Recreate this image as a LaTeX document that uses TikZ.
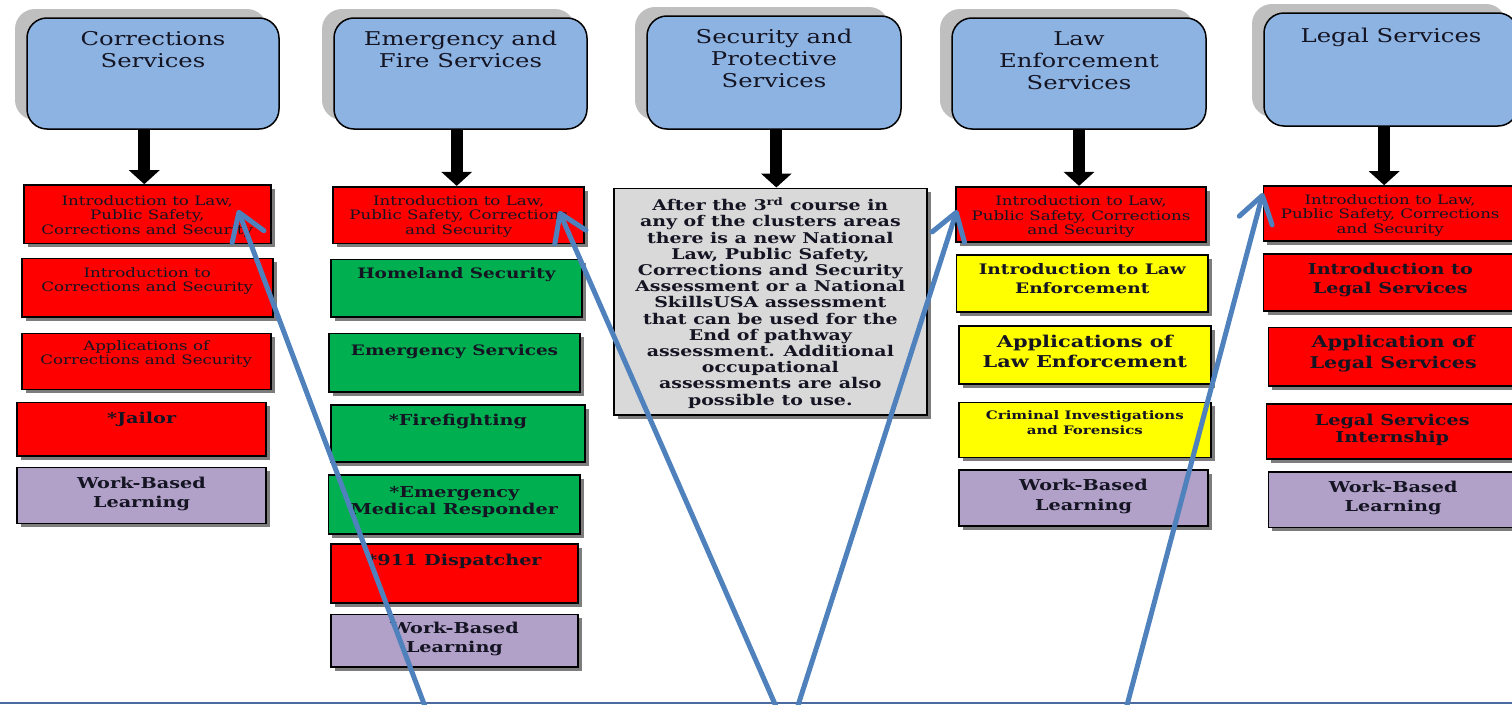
\documentclass[tikz,border=0pt]{standalone}
\usepackage{fontspec}
\setmainfont{DejaVu Serif}[FakeStretch=1.28]
\usetikzlibrary{arrows.meta,shadows}
\definecolor{hblue}{RGB}{141,179,226}
\definecolor{hshade}{RGB}{191,191,191}
\definecolor{bshade}{RGB}{125,125,125}
\definecolor{cred}{RGB}{255,0,0}
\definecolor{cgreen}{RGB}{0,176,80}
\definecolor{cyellow}{RGB}{255,255,0}
\definecolor{cpurple}{RGB}{177,160,199}
\definecolor{cgray}{RGB}{217,217,217}
\definecolor{ablue}{RGB}{79,129,189}
\definecolor{lblue}{RGB}{74,106,160}
\definecolor{tdark}{RGB}{20,20,35}
\tikzset{
  hdr/.style={draw=black, line width=1.5pt, rounded corners=20pt, fill=hblue, inner sep=0pt,
    general shadow={fill=hshade, shadow xshift=-12pt, shadow yshift=9pt}},
  cbox/.style={draw=black, line width=1.6pt, inner sep=0pt,
    general shadow={fill=bshade, shadow xshift=4pt, shadow yshift=-4pt}},
  btxt/.style={inner sep=0pt, align=center, text=tdark},
  barrow/.style={line width=12pt, black, -{Triangle[width=30pt,length=14pt]}},
  bluearrow/.style={line width=5pt, ablue, -{Straight Barb[length=26pt,width=34pt,round]}},
  baseline/.style={line width=2pt, lblue}
}
\newcommand\fHdr{\fontsize{19}{22}\selectfont}
\newcommand\fSml{\fontsize{13}{14.5}\selectfont}
\newcommand\fBd{\fontsize{15}{19}\selectfont\bfseries}
\newcommand\fGr{\fontsize{14.8}{16.2}\selectfont\bfseries}
\newcommand\mkbox[9]{%
  \node[cbox, fill=#2, minimum width={(#5-#3)*1pt}, minimum height={(#6-#4)*1pt}] (#1) at ({(#3+#5)/2},{(#4+#6)/2}) {};
  \node[btxt, font=#8, anchor=north] (#1t) at ({(#3+#5)/2},#7) {#9};}
\newcommand\mkhdr[7]{%
  \node[hdr, minimum width={(#4-#2)*1pt}, minimum height={(#5-#3)*1pt}] (#1) at ({(#2+#4)/2},{(#3+#5)/2}) {};
  \node[btxt, font=\fHdr, anchor=north] (#1t) at ({(#2+#4)/2},#6) {#7};}
\begin{document}
\begin{tikzpicture}[x=1pt,y=-1pt]
\path[use as bounding box] (0,0) rectangle (1512,704);
\clip (0,0) rectangle (1512,704);
% headers
\mkhdr{h1}{27}{18}{279}{129}{31}{Corrections\\Services}
\mkhdr{h2}{334}{18}{587}{129}{31}{Emergency and\\Fire Services}
\mkhdr{h3}{647}{16}{901}{129}{29}{Security and\\Protective\\Services}
\mkhdr{h4}{952}{18}{1206}{129}{31}{Law\\Enforcement\\Services}
\mkhdr{h5}{1264}{13}{1518}{126}{28}{Legal Services}
% column 1
\mkbox{b11}{cred}{23.7}{185}{270.8}{243.3}{195}{\fSml}{Introduction to Law,\\Public Safety,\\Corrections and Security}
\mkbox{b12}{cred}{21.7}{258.3}{272.7}{316.7}{267.4}{\fSml}{Introduction to\\Corrections and Security}
\mkbox{b13}{cred}{21.7}{333.3}{270.8}{389.3}{340.4}{\fSml}{Applications of\\Corrections and Security}
\mkbox{b14}{cred}{17.2}{402.3}{266}{456}{412}{\fBd}{*Jailor}
\mkbox{b15}{cpurple}{17}{467.3}{266}{523.3}{477}{\fBd}{Work-Based\\Learning}
% column 2
\mkbox{b21}{cred}{333.2}{186.7}{584.2}{243.3}{195}{\fSml}{Introduction to Law,\\Public Safety, Corrections\\and Security}
\mkbox{b22}{cgreen}{331}{259.3}{581.8}{316.7}{267.3}{\fontsize{14.4}{18}\selectfont\bfseries}{Homeland Security}
\mkbox{b23}{cgreen}{328.9}{333.3}{580.2}{391.7}{344}{\fontsize{14.4}{18}\selectfont\bfseries}{Emergency Services}
\mkbox{b24}{cgreen}{331}{405}{584.8}{461.7}{414}{\fBd}{*Firefighting}
\mkbox{b25}{cgreen}{328.4}{475}{580.2}{534}{485.7}{\fontsize{15}{17.3}\selectfont\bfseries}{*Emergency\\Medical Responder}
\mkbox{b26}{cred}{331}{544}{577.9}{602.7}{554}{\fBd}{*911 Dispatcher}
\mkbox{b27}{cpurple}{331}{614.3}{577.9}{666.7}{622.3}{\fontsize{15}{18.4}\selectfont\bfseries}{Work-Based\\Learning}
% column 3
\mkbox{g1}{cgray}{614}{188.3}{926.7}{415}{197.3}{\fGr}{After the 3\textsuperscript{rd} course in\\any of the clusters areas\\there is a new National\\Law, Public Safety,\\Corrections and Security\\Assessment or a National\\SkillsUSA assessment\\that can be used for the\\End of pathway\\assessment. Additional\\occupational\\assessments are also\\possible to use.}
% column 4
\mkbox{b41}{cred}{956}{186.7}{1206}{241.7}{195.5}{\fSml}{Introduction to Law,\\Public Safety, Corrections\\and Security}
\mkbox{b42}{cyellow}{956.4}{255}{1208.2}{311.7}{263}{\fontsize{14.5}{19}\selectfont\bfseries}{Introduction to Law\\Enforcement}
\mkbox{b43}{cyellow}{959}{325.7}{1210.7}{384}{335}{\fontsize{16.3}{20}\selectfont\bfseries}{Applications of\\Law Enforcement}
\mkbox{b44}{cyellow}{959}{402.3}{1210.7}{457.3}{410.5}{\fontsize{11.7}{15}\selectfont\bfseries}{Criminal Investigations\\and Forensics}
\mkbox{b45}{cpurple}{959}{470}{1208}{526}{478.7}{\fontsize{15}{20}\selectfont\bfseries}{Work-Based\\Learning}
% column 5
\mkbox{b51}{cred}{1263.3}{186}{1517}{240.7}{194}{\fSml}{Introduction to Law,\\Public Safety, Corrections\\and Security}
\mkbox{b52}{cred}{1263.6}{254}{1517}{310.7}{263}{\fBd}{Introduction to\\Legal Services}
\mkbox{b53}{cred}{1268.3}{327.3}{1518}{385.7}{335}{\fontsize{16.2}{21}\selectfont\bfseries}{Application of\\Legal Services}
\mkbox{b54}{cred}{1266.5}{404}{1518}{459}{413.7}{\fontsize{15}{17.3}\selectfont\bfseries}{Legal Services\\Internship}
\mkbox{b55}{cpurple}{1268.3}{471.7}{1518}{527.3}{481}{\fontsize{15}{18.7}\selectfont\bfseries}{Work-Based\\Learning}
% black arrows
\draw[barrow] ([xshift=-3pt]b11.north |- h1.south) -- ([xshift=-3pt]b11.north);
\draw[barrow] ([xshift=-2pt]b21.north |- h2.south) -- ([xshift=-2pt]b21.north);
\draw[barrow] ([xshift=6pt]g1.north |- h3.south) -- ([xshift=6pt]g1.north);
\draw[barrow] ([xshift=-2pt]b41.north |- h4.south) -- ([xshift=-2pt]b41.north);
\draw[barrow] ([xshift=-6pt]b51.north |- h5.south) -- ([xshift=-6pt]b51.north);
% bottom line and blue arrows
\coordinate (bl) at (0,703);
\coordinate (br) at (1512,703);
\draw[baseline] (bl) -- (br);
\coordinate (sA) at (424.8,706);
\coordinate (sB) at (775.8,706);
\coordinate (sC) at (797.8,706);
\coordinate (sD) at (1126.8,706);
\coordinate (tA) at (238,210);
\coordinate (tB) at (559,211);
\coordinate (tC) at (957,210);
\coordinate (tD) at (1263,193);
\draw[bluearrow] (sA) -- (tA);
\draw[bluearrow] (sB) -- (tB);
\draw[bluearrow] (sC) -- (tC);
\draw[bluearrow] (sD) -- (tD);
\end{tikzpicture}
\end{document}
